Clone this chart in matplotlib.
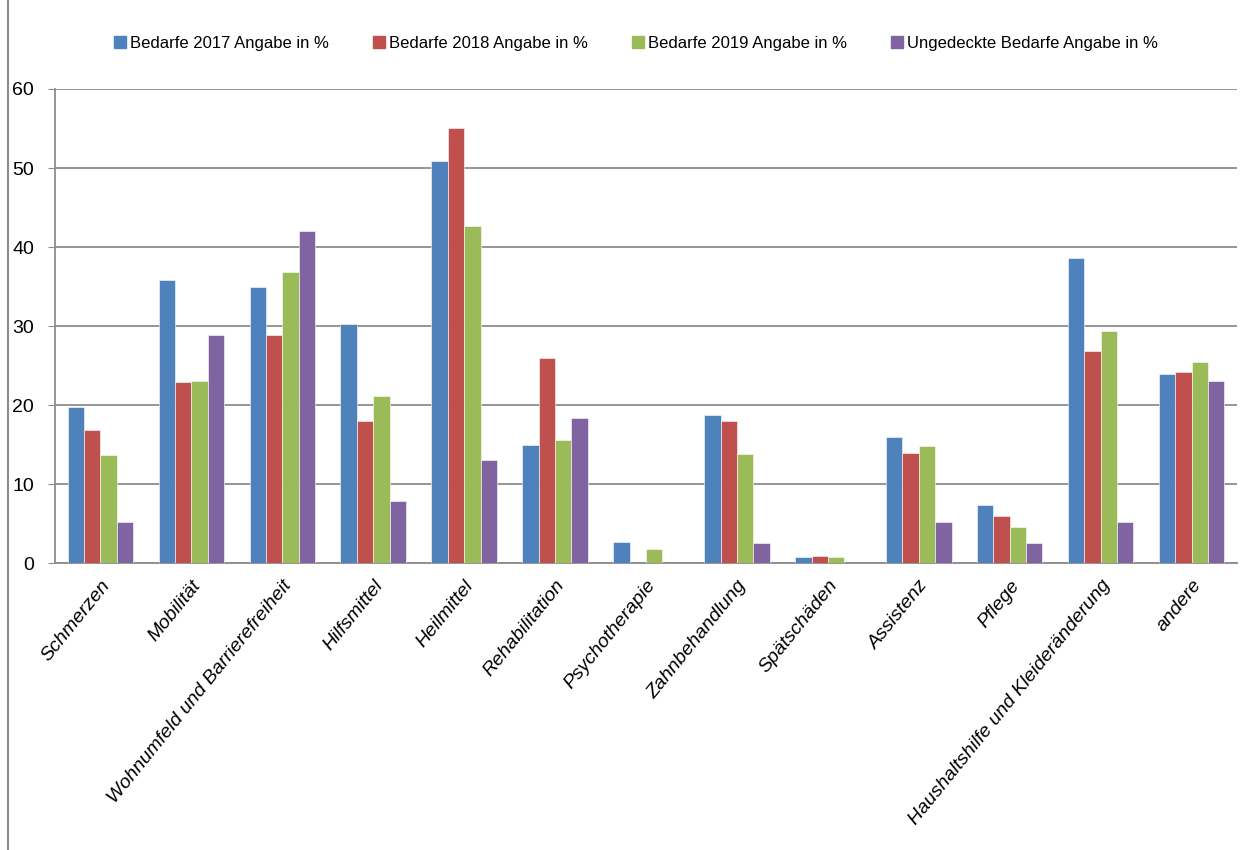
import numpy as np
import matplotlib
matplotlib.use('Agg')
import matplotlib.pyplot as plt
from matplotlib.lines import Line2D

plt.rcParams['font.family'] = ['Liberation Sans', 'DejaVu Sans']

categories = ['Schmerzen', 'Mobilität', 'Wohnumfeld und Barrierefreiheit', 'Hilfsmittel',
              'Heilmittel', 'Rehabilitation', 'Psychotherapie', 'Zahnbehandlung',
              'Spätschäden', 'Assistenz', 'Pflege', 'Haushaltshilfe und Kleideränderung',
              'andere']
bedarfe_2017 = [19.8, 35.8, 34.9, 30.2, 50.9, 15.0, 2.7, 18.8, 0.8, 15.9, 7.4, 38.6, 23.9]
bedarfe_2018 = [16.9, 22.9, 28.9, 18.0, 55.0, 25.9, 0.0, 18.0, 0.9, 13.9, 5.9, 26.9, 24.2]
bedarfe_2019 = [13.7, 23.0, 36.9, 21.2, 42.6, 15.6, 1.8, 13.8, 0.8, 14.8, 4.5, 29.4, 25.5]
ungedeckt = [5.2, 28.8, 42.0, 7.8, 13.1, 18.3, 0.0, 2.5, 0.0, 5.2, 2.5, 5.2, 23.0]

series = [bedarfe_2017, bedarfe_2018, bedarfe_2019, ungedeckt]
names = ['Bedarfe 2017 Angabe in %', 'Bedarfe 2018 Angabe in %',
         'Bedarfe 2019 Angabe in %', 'Ungedeckte Bedarfe Angabe in %']
colors = ['#4f81bd', '#c0504d', '#9bbb59', '#8064a2']

fig = plt.figure(figsize=(12.55, 8.5), dpi=100)
ax = fig.add_axes([0.0438, 0.3376, 0.9419, 0.5577])

x = np.arange(len(categories))
w = 0.18
for i, (vals, name, c) in enumerate(zip(series, names, colors)):
    ax.bar(x + (i - 1.5) * w, vals, w, color=c, label=name, zorder=3,
           edgecolor='white', linewidth=0.4)

ax.set_xlim(-0.5, len(categories) - 0.5)
ax.set_ylim(0, 60)
ax.set_yticks(range(0, 61, 10))
ax.yaxis.grid(True, color='#8c8c8c', linewidth=1.3, zorder=0)
ax.set_axisbelow(True)
for s in ['top', 'right']:
    ax.spines[s].set_visible(False)
ax.spines['left'].set_color('#8c8c8c')
ax.spines['bottom'].set_color('#8c8c8c')
ax.spines['left'].set_linewidth(1.3)
ax.spines['bottom'].set_linewidth(1.3)
ax.tick_params(axis='y', labelsize=14, length=5, color='#8c8c8c', pad=10)
ax.tick_params(axis='x', length=0, pad=10)
ax.set_xticks(x)
ax.set_xticklabels(categories, rotation=51, ha='right', rotation_mode='anchor',
                   fontsize=14, style='italic')

handles = [Line2D([], [], marker='s', linestyle='none', markersize=8,
                  markerfacecolor=c, markeredgecolor=c) for c in colors]
fig.legend(handles, names, loc='center', bbox_to_anchor=(0.506, 0.949), ncol=4,
           frameon=False, fontsize=12, handletextpad=0.1, handlelength=1.0,
           columnspacing=2.5)

fig.add_artist(Line2D([0.0065, 0.0065], [0, 1], color='#8c8c8c', linewidth=1.5))

fig.savefig('out.png', dpi=100)
